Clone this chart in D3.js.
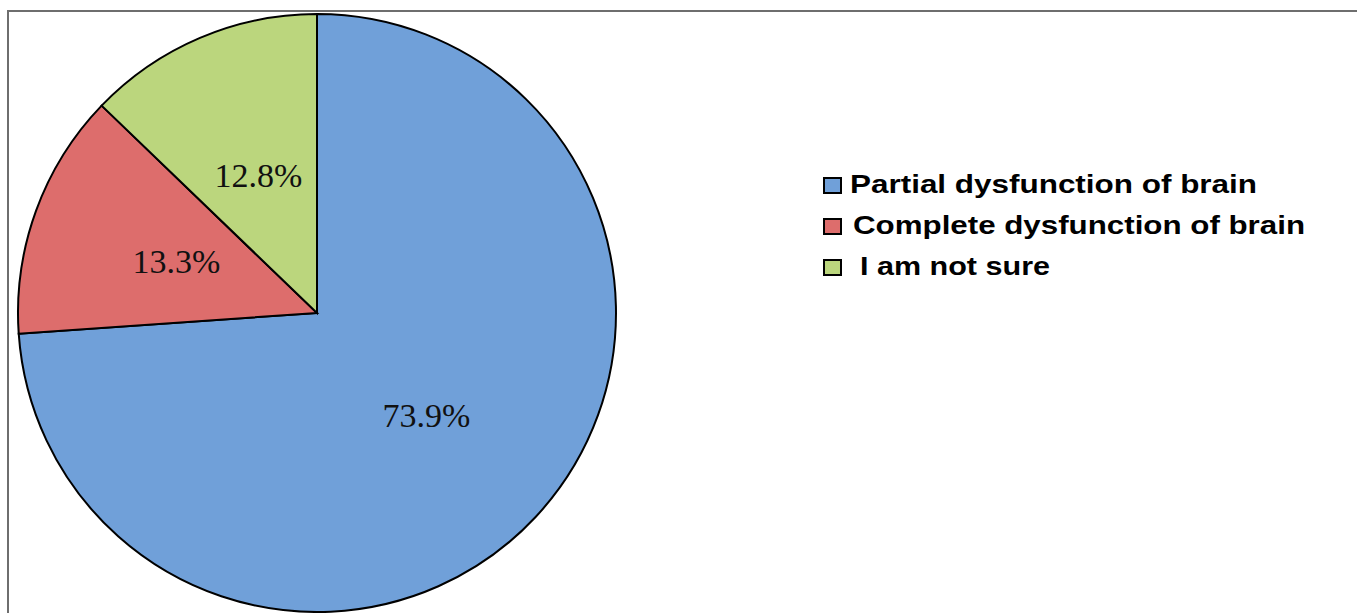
<!DOCTYPE html>
<html>
<head>
<meta charset="utf-8">
<script src="https://cdn.jsdelivr.net/npm/d3@7"></script>
<style>
  html, body { margin: 0; padding: 0; background: #ffffff; }
  svg { display: block; }
</style>
</head>
<body>
<svg id="chart" width="1357" height="613"></svg>
<script>
// Survey answers and their shares (percent)
const categories = ["Partial dysfunction of brain", "Complete dysfunction of brain", "I am not sure"];
const legendLabels = ["Partial dysfunction of brain", " Complete dysfunction of brain", " I am not sure"];
const values = [73.9, 13.3, 12.8];
const colors = ["#70a0d9", "#dd6d6c", "#bbd67d"];

const svg = d3.select("#chart");
const W = 1357, H = 613;

// Chart frame (top and left edges visible)
svg.append("path")
  .attr("d", `M8,${H + 5} L8,11 L${W + 5},11`)
  .attr("fill", "none")
  .attr("stroke", "#6e6e6e")
  .attr("stroke-width", 2);

const cx = 317, cy = 313, R = 299;

const data = categories.map((c, i) => ({ name: c, value: values[i], color: colors[i] }));

const pie = d3.pie().sort(null).value(d => d.value);
const arc = d3.arc().innerRadius(0).outerRadius(R);

const g = svg.append("g").attr("transform", `translate(${cx},${cy})`);

const arcs = pie(data);

g.selectAll("path.slice")
  .data(arcs)
  .join("path")
  .attr("class", "slice")
  .attr("d", arc)
  .attr("fill", d => d.data.color)
  .attr("stroke", "#000")
  .attr("stroke-width", 2)
  .attr("stroke-linejoin", "miter");

g.selectAll("text.pct")
  .data(arcs)
  .join("text")
  .attr("class", "pct")
  .attr("transform", d => `translate(${arc.centroid(d)})`)
  .attr("text-anchor", "middle")
  .attr("dy", "0.34em")
  .attr("font-family", "'Liberation Serif', 'Times New Roman', serif")
  .attr("font-size", 34)
  .attr("fill", "#111")
  .text(d => d.data.value.toFixed(1) + "%");

// Legend
const legend = svg.append("g").attr("transform", "translate(823,193)");
const rowGap = 41;
const textWidths = [407, 452, 190];
const textStarts = [27, 30, 37];

const rows = legend.selectAll("g.row")
  .data(data)
  .join("g")
  .attr("class", "row")
  .attr("transform", (d, i) => `translate(0,${i * rowGap})`);

rows.append("rect")
  .attr("x", 1)
  .attr("y", -15)
  .attr("width", 17)
  .attr("height", 15)
  .attr("fill", d => d.color)
  .attr("stroke", "#000")
  .attr("stroke-width", 2);

rows.append("text")
  .attr("x", (d, i) => textStarts[i])
  .attr("y", 0)
  .attr("font-family", "'Liberation Sans', Arial, sans-serif")
  .attr("font-weight", "bold")
  .attr("font-size", 25)
  .attr("fill", "#000")
  .attr("textLength", (d, i) => textWidths[i])
  .attr("lengthAdjust", "spacingAndGlyphs")
  .text((d, i) => legendLabels[i].trim());
</script>
</body>
</html>
